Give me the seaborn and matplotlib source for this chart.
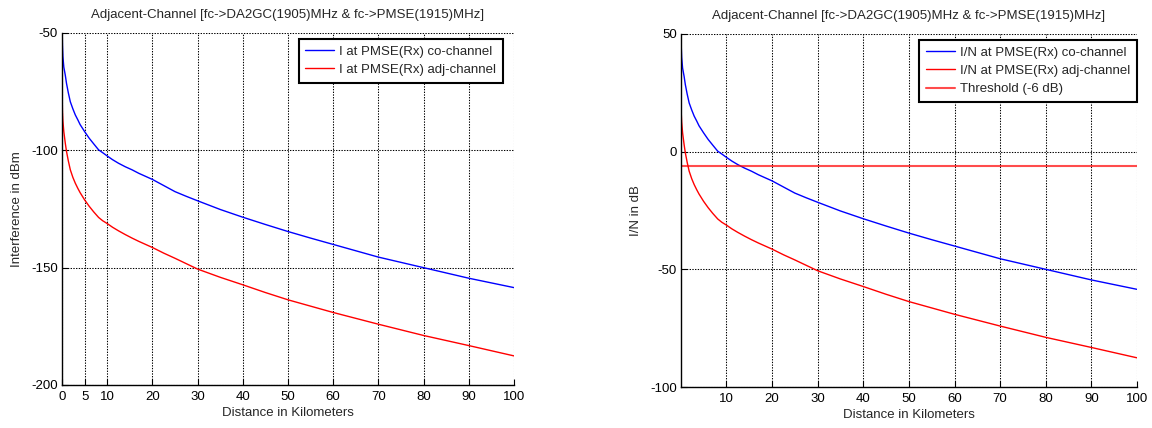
import matplotlib
matplotlib.use("Agg")
import matplotlib.pyplot as plt
import seaborn as sns
import pandas as pd

# ---- data ----
distance_km = [0.05, 0.1, 0.2, 0.4, 0.73, 1.0, 1.4, 1.84, 2.4, 2.94, 3.5, 4, 5, 6,
               7, 8.1, 9, 10, 11.2, 12.5, 14, 15.5, 17, 18.5, 20, 22.5, 25, 27.5,
               30, 35, 40, 45, 50, 55, 60, 70, 80, 90, 100]
i_co_dbm = [-50, -55, -60, -64.5, -68, -71.5, -75.5, -79.3, -82.3, -84.9, -87,
            -89, -92, -94.8, -97.2, -99.8, -101, -102.4, -104, -105.5, -107,
            -108.3, -109.8, -111.1, -112.4, -115, -117.6, -119.6, -121.5, -125.2,
            -128.5, -131.6, -134.6, -137.4, -140.1, -145.5, -150, -154.5, -158.5]
i_adj_dbm = [-78.5, -83.5, -87.5, -92, -97, -100.5, -104.5, -108.3, -111.5, -114,
             -116.2, -118, -121.1, -123.8, -126.2, -128.6, -130, -131.2, -132.8,
             -134.3, -135.9, -137.4, -138.8, -140.1, -141.4, -143.8, -146.0,
             -148.3, -150.6, -154.1, -157.3, -160.6, -163.7, -166.4, -169.1,
             -174.1, -178.9, -183.2, -187.6]
in_co_db = [50, 45, 40, 35.5, 32, 28.5, 24.5, 20.7, 17.7, 15.1, 13, 11, 8, 5.2,
            2.8, 0.2, -1, -2.4, -4, -5.5, -7, -8.3, -9.8, -11.1, -12.4, -15,
            -17.6, -19.6, -21.5, -25.2, -28.5, -31.6, -34.6, -37.4, -40.1, -45.5,
            -50, -54.5, -58.5]
in_adj_db = [21.5, 16.5, 12.5, 8, 3, -0.5, -4.5, -8.3, -11.5, -14, -16.2, -18,
             -21.1, -23.8, -26.2, -28.6, -30, -31.2, -32.8, -34.3, -35.9, -37.4,
             -38.8, -40.1, -41.4, -43.8, -46.0, -48.3, -50.6, -54.1, -57.3, -60.6,
             -63.7, -66.4, -69.1, -74.1, -78.9, -83.2, -87.6]
threshold_db = -6

title = "Adjacent-Channel [fc->DA2GC(1905)MHz & fc->PMSE(1915)MHz]"
left_names = ["I at PMSE(Rx) co-channel", "I at PMSE(Rx) adj-channel"]
right_names = ["I/N at PMSE(Rx) co-channel", "I/N at PMSE(Rx) adj-channel",
               "Threshold (-6 dB)"]
left_xticks = [0, 5, 10, 20, 30, 40, 50, 60, 70, 80, 90, 100]
right_xticks = [10, 20, 30, 40, 50, 60, 70, 80, 90, 100]
left_yticks = [-200, -150, -100, -50]
right_yticks = [-100, -50, 0, 50]

sns.set_style("white")
plt.rcParams['font.family'] = ['Liberation Sans', 'DejaVu Sans']
FS = 9.5

fig = plt.figure(figsize=(11.52, 4.28), dpi=100)
axL = fig.add_axes([62/1152, 1-385/428, 452/1152, 352/428])
axR = fig.add_axes([681/1152, 1-387/428, 456/1152, 353/428])

n = len(distance_km)
dfL = pd.DataFrame({
    "d": distance_km * 2,
    "v": i_co_dbm + i_adj_dbm,
    "s": [left_names[0]] * n + [left_names[1]] * n,
})
dfR = pd.DataFrame({
    "d": distance_km * 2,
    "v": in_co_db + in_adj_db,
    "s": [right_names[0]] * n + [right_names[1]] * n,
})

pal = {left_names[0]: "#0000ff", left_names[1]: "#ff0000",
       right_names[0]: "#0000ff", right_names[1]: "#ff0000"}

sns.lineplot(data=dfL, x="d", y="v", hue="s", palette=pal, ax=axL, lw=1.0,
             sort=False, estimator=None)
sns.lineplot(data=dfR, x="d", y="v", hue="s", palette=pal, ax=axR, lw=1.0,
             sort=False, estimator=None)
axR.axhline(threshold_db, color="#ff0000", lw=1.5, alpha=0.7, label=right_names[2])

def style(ax, xlim, xticks, ylim, yticks, ylabel):
    ax.set_xlim(*xlim)
    ax.set_ylim(*ylim)
    ax.set_xticks(xticks)
    ax.set_yticks(yticks)
    ax.set_xticklabels([str(t) for t in xticks], fontsize=FS)
    ax.set_yticklabels([str(t) for t in yticks], fontsize=FS)
    ax.set_xlabel("Distance in Kilometers", fontsize=FS, labelpad=3)
    ax.set_ylabel(ylabel, fontsize=FS, labelpad=6)
    ax.set_title(title, fontsize=FS, pad=11)
    ax.grid(True, color="black", linestyle=(0, (1.3, 1.3)), lw=0.75)
    ax.set_axisbelow(True)
    for s in ["top", "right"]:
        ax.spines[s].set_visible(False)
    for s in ["left", "bottom"]:
        ax.spines[s].set_color("black")
        ax.spines[s].set_linewidth(1.0)
    ax.tick_params(direction="in", length=4, width=0.8, colors="black",
                   bottom=True, left=True)
    ax.tick_params(axis="x", pad=4)
    ax.tick_params(axis="y", pad=3)

style(axL, (0, 100), left_xticks, (-200, -50), left_yticks, "Interference in dBm")
style(axR, (0.05, 100), right_xticks, (-100, 50), right_yticks, "I/N in dB")

for ax, anchor in [(axL, ((503-62)/452, (385-39)/352)),
                   (axR, ((1137-681)/456, (387-40)/353))]:
    h, l = ax.get_legend_handles_labels()
    leg = ax.legend(h, l, loc="upper right", bbox_to_anchor=anchor,
                    fontsize=FS, frameon=True, fancybox=False, framealpha=1,
                    edgecolor="black", handlelength=2.2, handletextpad=0.4,
                    borderpad=0.5, labelspacing=0.45, borderaxespad=0)
    leg.get_frame().set_linewidth(1.5)

fig.savefig("out.png", dpi=100, facecolor="white")
